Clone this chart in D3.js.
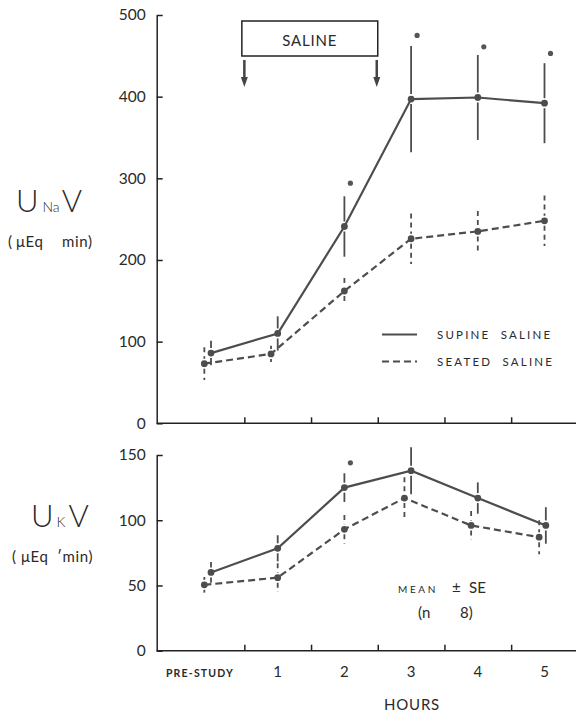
<!DOCTYPE html>
<html><head><meta charset="utf-8">
<script src="https://cdn.jsdelivr.net/npm/d3@7"></script>
<style>
body{margin:0;background:#fff;}
svg{display:block;}
text{font-family:Lato,"Open Sans","DejaVu Sans",sans-serif;fill:#2a2a2a;}
</style></head><body>
<svg id="c" width="576" height="715"></svg>
<script>
// ---- data ----
const hours = ["PRE-STUDY","1","2","3","4","5"];
const hourIdx = [0,1,2,3,4,5];
const naTicks = [0,100,200,300,400,500];
const kTicks = [0,50,100,150];

const naSupine   = [86, 110, 241, 397, 399, 392];
const naSupineSE = [15, 21, 37, 65, 52, 49];
const naSupineX  = [0, 1, 2, 3, 4, 5];
const naSeated   = [73, 85, 162, 226, 235, 248];
const naSeatedSE = [20, 10, 16, 31, 25, 31];
const naSeatedX  = [-0.1, 0.9, 2, 3, 4, 5];
const naSigHours = [2, 3, 4, 5];
const naSigVals  = [294, 475, 461, 453];

const kSupine   = [60, 78.5, 125, 138, 117, 96];
const kSupineSE = [8, 10, 11, 18, 12, 14];
const kSupineX  = [0, 1, 2, 3, 4, 5.02];
const kSeated   = [50.5, 56, 93, 117, 96, 87];
const kSeatedSE = [6, 11, 11, 16, 11, 13];
const kSeatedX  = [-0.1, 1, 2, 2.9, 3.9, 4.92];
const kSigHours = [2];
const kSigVals  = [144];

const svg = d3.select("#c");
const ink = "#222";
const grey = "#4d4d4d";

const x = d3.scaleLinear().domain([0,5]).range([211, 544.5]);
const yNa = d3.scaleLinear().domain([0,500]).range([423.3, 15]);
const yK  = d3.scaleLinear().domain([0,150]).range([650.7, 455]);
const axisX0 = 156.7;

function panel(y, ticks, sup, supSE, supX, sea, seaSE, seaX, sigH, sigV){
  const g = svg.append("g");
  const ya = g.append("g").attr("transform",`translate(${axisX0},0)`)
    .call(d3.axisLeft(y).tickValues(ticks).tickSizeInner(-6).tickSizeOuter(0).tickPadding(11));
  ya.select(".domain").attr("stroke",ink).attr("stroke-width",1.5);
  ya.selectAll(".tick line").attr("stroke",ink).attr("stroke-width",1.5);
  ya.selectAll(".tick text").attr("font-size",15.5).attr("fill","#2a2a2a")
    .style("font-family","Lato,'Open Sans',sans-serif");
  const xa = g.append("g").attr("transform",`translate(0,${y(0)})`)
    .call(d3.axisBottom(x).tickValues([0.5,1.5,2.5,3.5,4.5]).tickSizeInner(-6).tickSizeOuter(0).tickFormat(""));
  xa.select(".domain").remove();
  xa.selectAll(".tick line").attr("stroke",ink).attr("stroke-width",1.5);
  g.append("line").attr("x1",axisX0).attr("x2",576).attr("y1",y(0)).attr("y2",y(0))
    .attr("stroke",ink).attr("stroke-width",1.5);

  const series = [
    {v:sup, se:supSE, xs:supX, dash:null},
    {v:sea, se:seaSE, xs:seaX, dash:"7,4"}
  ];
  series.forEach(s=>{
    const pts = s.v.map((v,i)=>[x(s.xs[i]), y(v)]);
    g.append("path").attr("d", d3.line()(pts)).attr("fill","none")
      .attr("stroke",grey).attr("stroke-width",2.2)
      .attr("stroke-dasharray", s.dash);
    s.v.forEach((v,i)=>{
      const cx = x(s.xs[i]), cy = y(v);
      const top = y(v + s.se[i]), bot = y(v - s.se[i]);
      [[top, cy-5],[cy+5, bot]].forEach(([a,b])=>{
        if (Math.abs(b-a) < 1) return;
        g.append("line").attr("x1",cx).attr("x2",cx).attr("y1",a).attr("y2",b)
          .attr("stroke",grey).attr("stroke-width",1.8)
          .attr("stroke-dasharray", s.dash ? "5,4" : null);
      });
      g.append("circle").attr("cx",cx).attr("cy",cy).attr("r",3.4).attr("fill",grey);
    });
  });
  sigH.forEach((h,i)=>{
    g.append("circle").attr("cx",x(h)+6).attr("cy",y(sigV[i])).attr("r",2.6).attr("fill","#555");
  });
}

panel(yNa, naTicks, naSupine, naSupineSE, naSupineX, naSeated, naSeatedSE, naSeatedX, naSigHours, naSigVals);
panel(yK, kTicks, kSupine, kSupineSE, kSupineX, kSeated, kSeatedSE, kSeatedX, kSigHours, kSigVals);

// saline box & arrows
const bx0 = x(0.5)-2.5, bx1 = x(2.5);
svg.append("rect").attr("x",bx0).attr("y",21).attr("width",bx1-bx0).attr("height",35)
  .attr("fill","none").attr("stroke",ink).attr("stroke-width",1.5);
svg.append("text").attr("x",(bx0+bx1)/2).attr("y",46).attr("text-anchor","middle")
  .attr("font-size",15).attr("letter-spacing",0.8).text("SALINE");
[x(0.5), x(2.5)-1].forEach(ax=>{
  svg.append("line").attr("x1",ax).attr("x2",ax).attr("y1",60).attr("y2",78)
    .attr("stroke","#444").attr("stroke-width",2.5);
  svg.append("path").attr("d",`M${ax-3.5},77 L${ax+3.5},77 L${ax},87 Z`).attr("fill","#444");
});

// legend
svg.append("line").attr("x1",382).attr("x2",417).attr("y1",334.5).attr("y2",334.5)
  .attr("stroke",grey).attr("stroke-width",2.2);
svg.append("line").attr("x1",382).attr("x2",417).attr("y1",361.5).attr("y2",361.5)
  .attr("stroke",grey).attr("stroke-width",2.2).attr("stroke-dasharray","7,4");
svg.append("text").attr("x",437).attr("y",339).attr("font-size",11.5).attr("letter-spacing",2.2)
  .attr("xml:space","preserve").text("SUPINE  SALINE");
svg.append("text").attr("x",437).attr("y",366).attr("font-size",11.5).attr("letter-spacing",2.2)
  .attr("xml:space","preserve").text("SEATED  SALINE");

// mean ± SE
const ms = svg.append("text").attr("x",398).attr("y",593);
ms.append("tspan").attr("font-size",10).attr("letter-spacing",2.6).text("MEAN");
ms.append("tspan").attr("font-size",15).attr("x",452).text("±");
ms.append("tspan").attr("font-size",15).attr("x",469).text("SE");
const nn = svg.append("text").attr("y",618).attr("font-size",15);
nn.append("tspan").attr("x",418).text("(n");
nn.append("tspan").attr("x",460).text("8)");

// x labels
hours.forEach((h,i)=>{
  const t = svg.append("text").attr("x", x(hourIdx[i]) + (i===0 ? -11 : 0)).attr("y",677)
    .attr("text-anchor","middle").text(h);
  if (i===0) t.attr("font-size",10.5).attr("font-weight",700).attr("letter-spacing",1.2);
  else t.attr("font-size",15);
});
svg.append("text").attr("x",412).attr("y",710).attr("text-anchor","middle")
  .attr("font-size",15).attr("letter-spacing",0.8).text("HOURS");

// y labels
const na = svg.append("text").attr("x",16).attr("y",212).attr("font-weight",300);
na.append("tspan").attr("font-size",31).text("U");
na.append("tspan").attr("font-size",14).attr("dx",4).text("Na");
na.append("tspan").attr("font-size",31).attr("dx",2).text("V");
const nau = svg.append("text").attr("y",247).attr("font-size",15);
nau.append("tspan").attr("x",8).text("(");
nau.append("tspan").attr("x",16).attr("letter-spacing",0.6).text("μEq");
nau.append("tspan").attr("x",62).attr("letter-spacing",0.6).text("min)");

const k = svg.append("text").attr("x",31).attr("y",527).attr("font-weight",300);
k.append("tspan").attr("font-size",31).text("U");
k.append("tspan").attr("font-size",14).attr("dx",3).text("K");
k.append("tspan").attr("font-size",31).attr("dx",3).text("V");
const ku = svg.append("text").attr("y",562).attr("font-size",15);
ku.append("tspan").attr("x",12).text("(");
ku.append("tspan").attr("x",21).attr("letter-spacing",0.6).text("μEq");
ku.append("tspan").attr("x",57).attr("letter-spacing",0.6).text("′min)");
</script>
</body></html>
